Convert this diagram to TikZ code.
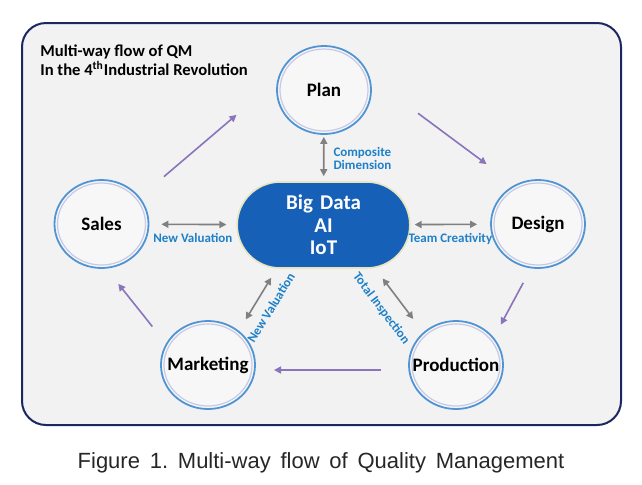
\documentclass[tikz,border=0pt]{standalone}
\usepackage{fontspec}
\setmainfont{Carlito}
\newfontfamily\capfont[WordSpace=1.6]{Liberation Sans}
\newfontfamily\hubfont[WordSpace=1.5]{Carlito}
\usetikzlibrary{arrows.meta,shapes.geometric,shapes.misc,positioning}
\definecolor{framenavy}{RGB}{28,38,96}
\definecolor{panelgray}{RGB}{242,242,242}
\definecolor{ringblue}{RGB}{80,148,212}
\definecolor{ringlav}{RGB}{200,200,232}
\definecolor{coreblue}{RGB}{22,96,184}
\definecolor{corerim}{RGB}{232,228,190}
\definecolor{flowpurple}{RGB}{138,116,188}
\definecolor{linkgray}{RGB}{128,128,128}
\definecolor{tagblue}{RGB}{30,128,200}
\newcommand{\stagename}[1]{\makebox[0pt]{#1}}
\begin{document}
\begin{tikzpicture}[x=0.5pt,y=-0.5pt]
	\tikzset{stage/.style={ellipse,draw=ringblue,line width=0.9pt,fill=white!40!panelgray,minimum width=47pt,minimum height=44pt,inner sep=0pt,font=\bfseries\fontsize{9.5}{11}\selectfont},
		core/.style={rounded rectangle,draw=corerim,line width=0.8pt,fill=coreblue,text=white,minimum width=93pt,minimum height=43pt,align=center,font=\hubfont\bfseries\fontsize{10.5}{11.3}\selectfont},
		flow/.style={draw=flowpurple,line width=0.8pt,-{Triangle[length=3.5pt,width=3.5pt]}},
		link/.style={draw=linkgray,line width=0.8pt,{Triangle[length=3.5pt,width=3.5pt]}-{Triangle[length=3.5pt,width=3.5pt]}},
		tag/.style={text=tagblue,font=\bfseries\fontsize{6.5}{6.5}\selectfont,inner sep=1pt}}
	\useasboundingbox (0,0) rectangle (642,484);
	\draw[framenavy,line width=1pt,fill=panelgray,rounded corners=12pt] (22,23) rectangle (621,425);
	\node[anchor=north west,align=left,inner sep=0pt,font=\bfseries\fontsize{8.3}{9.5}\selectfont] (title) at (40,44) {Multi-way flow of QM\\In the 4\textsuperscript{th}Industrial Revolution};
	% hub and the five stages
	\node[core] (core) at (323.5,225) {Big Data\\AI\\IoT};
	\node[stage] (plan) at (324,90) {\stagename{Plan}};
	\node[stage] (sales) at (101.5,224) {\stagename{Sales}};
	\node[stage] (design) at (538,224) {\stagename{Design}};
	\node[stage] (marketing) at (208,365) {\stagename{Marketing}};
	\node[stage] (production) at (456,365) {\stagename{Production}};
	\foreach \n in {plan,sales,design,marketing,production}
		\draw[ringlav,line width=0.6pt] (\n.center) ellipse (22pt and 20.5pt);
	% cycle
	\draw[flow,shorten <=15.8pt,shorten >=26.8pt] (sales.35.6) -- (plan.168.4);
	\draw[flow,shorten <=29.9pt,shorten >=17.4pt] (plan.15.6) -- (design.121.1);
	\draw[flow,shorten <=8.2pt,shorten >=7.3pt] (design.-99.4) -- (production.36);
	\draw[flow,shorten <=13.6pt,shorten >=9.2pt] (production.186.1) -- (marketing.-6.1);
	\draw[flow,shorten <=10.9pt,shorten >=9.7pt] (marketing.153.2) -- (sales.-84.1);
	% links to the hub
	\path (plan) edge[link,shorten <=1pt,shorten >=2.5pt] node[tag,right=3.5pt,align=left] {Composite\\Dimension} (core)
		(sales) edge[link,shorten <=6pt,shorten >=5pt] node[tag,below=3pt] {New Valuation} (core)
		(core) edge[link,shorten <=2pt,shorten >=6.5pt] node[tag,below=3pt] {Team Creativity} (design)
		(marketing.48.4) edge[link,shorten <=6.6pt,shorten >=5.3pt] node[tag,sloped,below=4pt] {New Valuation} (core.223.1)
		(core.-40.5) edge[link,shorten <=6.5pt,shorten >=8.3pt] node[tag,sloped,below=5.5pt,pos=0.45] {Total Inspection} (production.135.8);
	\node[font=\capfont\fontsize{11}{13}\selectfont,text=black!85] (caption) at (321,463) {Figure 1.~Multi-way flow of Quality Management};
\end{tikzpicture}
\end{document}
